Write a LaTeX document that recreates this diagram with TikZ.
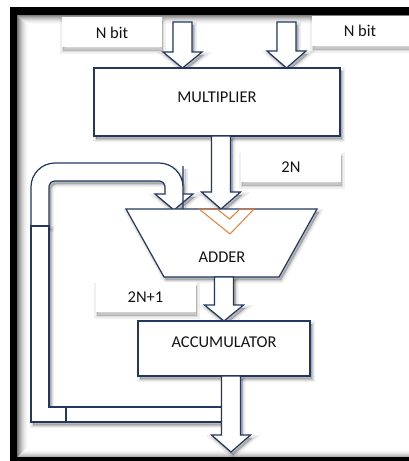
\documentclass[tikz,border=0pt]{standalone}
\usepackage{fontspec}
\setmainfont{Carlito}
\definecolor{navy}{RGB}{35,56,97}
\definecolor{accent}{RGB}{237,125,49}
\definecolor{ink}{RGB}{20,20,20}

% block arrow pointing down: centre x, top y, head base y, tip y
\newcommand\blockarrow[4]{%
  \draw[edge,soft] ({#1-9.5},#2) -- ({#1+9.5},#2) -- ({#1+9.5},#3) -- ({#1+19.5},#3)
    -- (#1,#4) -- ({#1-19.5},#3) -- ({#1-9.5},#3) -- cycle;}

\begin{document}
\begin{tikzpicture}[x=1pt,y=-1pt,
  edge/.style={draw=navy,line width=1.2pt,fill=white,line join=miter},
  % soft shadow made of layered translucent copies, offset right and down
  layer/.style 2 args={preaction={draw=black,fill=black,line width=#1,draw opacity=#2,fill opacity=#2,
    transform canvas={shift={(2pt,-3pt)}}}},
  soft/.style={layer={6pt}{0.06},layer={3pt}{0.08},layer={0.5pt}{0.10}},
  tagshadow/.style={preaction={fill=black,fill opacity=0.08,draw=black,draw opacity=0.06,line width=6pt,
      transform canvas={shift={(1pt,-4pt)}}},
    preaction={fill=black,fill opacity=0.10,draw=black,draw opacity=0.08,line width=2pt,
      transform canvas={shift={(1pt,-4pt)}}}},
  tag/.style={fill=white,minimum width=100pt,minimum height=30pt,inner sep=0pt,tagshadow},
  txt/.style={text=ink,font=\fontsize{16.5}{19}\selectfont,inner sep=0pt},
  block/.style={edge,soft,inner sep=0pt}]
\useasboundingbox (0,0) rectangle (408,461);
\fill[white] (-6,-6) rectangle (414,467);

% frame with a soft inner shadow, built from thin strips
\foreach \i in {0,...,11} {
  \pgfmathsetmacro\g{55*(1-\i/12)^2}
  \fill[black!\g] ({17+\i},15) rectangle ({18+\i},457);
}
\foreach \i in {0,...,9} {
  \pgfmathsetmacro\g{50*(1-\i/10)^2}
  \fill[black!\g] ({17+\i},{15+\i}) rectangle (414,{16+\i});
}
\foreach \i in {0,...,7} {
  \pgfmathsetmacro\g{30*(1-\i/8)^2}
  \fill[black!\g] ({18+\i},{456-\i}) rectangle (414,{457-\i});
}
\fill[black] (10,7) rectangle (17,467);
\fill[black] (10,7) rectangle (414,15);
\fill[black] (10,457) rectangle (414,467);

% feedback path: bent arrow into the adder
\draw[edge,soft] (31,226) -- (31,200) [rounded corners=24pt] -- (31,163) -- (183,163)
  -- (183,190) [sharp corners] -- (183,194) -- (193,194) -- (174,210) -- (155,194)
  -- (165,194) -- (165,190) [rounded corners=6pt] -- (165,181) -- (49,181)
  -- (49,198) [sharp corners] -- (49,226) -- cycle;
% feedback path: return leg from the accumulator output
\draw[edge,soft] (31,226) -- (31,422) -- (222,422) -- (222,407) -- (49,407) -- (49,226) -- cycle;
\draw[draw=navy,line width=1.2pt] (66,407) -- (66,422);

% input labels
\node[tag] (nbitl) at (112,32) {};
\node[txt] (nbitltxt) at (112,33) {N bit};
\node[tag] (nbitr) at (362,30.5) {};
\node[txt] (nbitrtxt) at (360,31) {N bit};

% input arrows
\blockarrow{182.5}{22}{52}{68}
\blockarrow{286.5}{22}{51}{68}

% multiplier
\node[block,minimum width=246pt,minimum height=68pt] (mul) at (217,102) {};
\node[txt] (multxt) at (217,97) {MULTIPLIER};

% product width label
\node[tag] (twon) at (291,167) {};
\node[txt] (twontxt) at (291,167) {2N};

\blockarrow{221}{136}{192}{209}

% adder
\draw[edge,soft] (126,209) -- (317,209) -- (279,277) -- (164,277) -- cycle;
\draw[accent,line width=1pt,line join=miter] (199,209) -- (230,234) -- (254,209)
  -- (240,209) -- (229.5,219) -- (217,209) -- cycle;
\node[txt] (adder) at (222,257) {ADDER};

% sum width label
\node[tag] (twonp) at (145.5,297) {};
\node[txt] (twonptxt) at (145.5,297) {2N+1};

\blockarrow{224}{277}{305}{321}

% accumulator
\node[block,minimum width=172pt,minimum height=55pt] (acc) at (224,348.5) {};
\node[txt] (acctxt) at (224,342) {ACCUMULATOR};

\blockarrow{231}{376}{435}{452}
\end{tikzpicture}
\end{document}
